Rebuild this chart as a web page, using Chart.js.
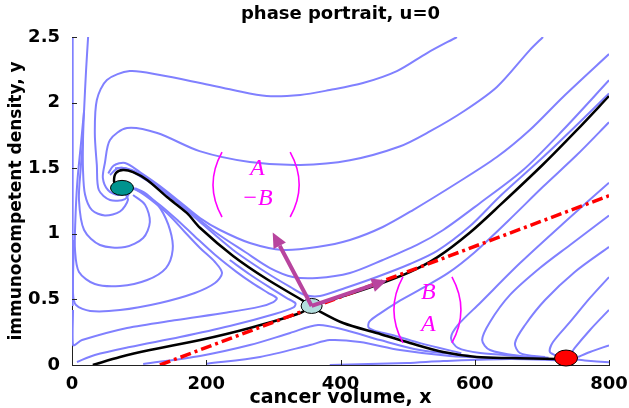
<!DOCTYPE html>
<html><head><meta charset="utf-8">
<script src="https://cdn.jsdelivr.net/npm/chart.js@4/dist/chart.umd.min.js"></script>
<style>html,body{margin:0;padding:0;background:#fff;overflow:hidden}canvas{display:block}</style>
</head><body>
<canvas id="c" width="629" height="408" style="width:629px;height:408px"></canvas>
<script>
// ---------- tick values ----------
const xTicks = [0, 200, 400, 600, 800];
const yTicks = [0, 0.5, 1, 1.5, 2, 2.5];

// ---------- equilibria ----------
const spiralPoint = [74.5, 1.35];
const saddlePoint = [357, 0.45];
const nodePoint = [736, 0.053];

// ---------- eigenvector arrow tips (from saddle) ----------
const arrowTipUp = [299, 1.01];
const arrowTipRight = [469, 0.645];

// ---------- red dash-dot line ----------
const redLine = [[131, 0], [800, 1.29]];

// ---------- separatrices (black) ----------
const sepStableLower = [[31,0],[71.5,0.061],[116,0.114],[191,0.19],[265,0.282],[340,0.396],[357,0.45]];
const sepStableUpper = [[357,0.45],[407,0.53],[454,0.61],[504,0.71],[544,0.82],[593,1.01],[638,1.22],[702,1.53],[752,1.79],[800,2.05]];
const sepUnstableSpiral = [[357,0.45],[340,0.503],[290,0.655],[240,0.831],[191,1.044],[171,1.159],[141.5,1.28],[112,1.41],[91,1.47],[76,1.486],[65.5,1.463],[62.6,1.40],[66,1.36]];
const sepUnstableNode = [[357,0.45],[365,0.42],[404,0.32],[454,0.244],[503.5,0.168],[553,0.099],[603,0.061],[652.5,0.053],[722.5,0.046],[736,0.05]];

// ---------- trajectories (blue) ----------
const axisFlow = [[1,2.5],[1,1.6],[1,0.9],[1,0.45]];
const topDescent = [[24,2.5],[21,2.25],[18,1.94],[16.4,1.72],[16.4,1.49],[19.4,1.30],[29.8,1.18],[49,1.14],[71.5,1.17],[83.4,1.26],[77.5,1.32]];
const upperLoop1 = [[88,1.334],[79,1.265],[56.6,1.258],[40,1.334],[37,1.524],[34,1.768],[37,2.02],[52,2.172],[86,2.24],[131,2.21],[191,2.149],[240,2.096],[290,2.05],[340,2.058],[384,2.096],[433.5,2.149],[484,2.24],[529,2.378],[573.5,2.5]];
const upperLoop2 = [[82,1.334],[68.5,1.296],[53.6,1.334],[46,1.425],[49,1.54],[56.6,1.715],[82,1.806],[127,1.768],[190,1.63],[265,1.547],[340,1.524],[414,1.56],[488,1.665],[533,1.78],[582.5,1.93],[633,2.119],[682,2.40],[701.7,2.5]];
const spiralInflow1 = [[800,2.07],[752,1.829],[702,1.585],[638,1.288],[593,1.059],[544,0.87],[503.5,0.77],[454,0.671],[407,0.587],[369.5,0.526],[347,0.534],[325,0.595],[290.5,0.701],[240,0.877],[190.7,1.09],[161,1.22],[131,1.341],[101,1.44],[79,1.50],[64,1.50]];
const spiralInflow2 = [[800,2.17],[731.5,1.791],[672,1.486],[608,1.235],[553,1.029],[514,0.915],[463,0.80],[414,0.701],[365,0.663],[329,0.671],[295,0.739],[258,0.861],[213,1.014],[176,1.166],[146,1.296],[116,1.41],[89,1.486],[68.5,1.50],[56.6,1.448]];
const spiralInflow3 = [[800,2.37],[731.5,2.043],[682,1.791],[633,1.585],[573.6,1.387],[508,1.181],[463,1.052],[414,0.953],[365,0.899],[314,0.877],[265,0.93],[220.5,1.029],[190.7,1.12],[161,1.242],[131,1.364],[101,1.471],[79,1.54],[62,1.52],[54,1.46]];
const nodeInflow1 = [[800,1.85],[752,1.60],[702,1.36],[650,1.10],[600,0.86],[560,0.70],[520,0.58],[485,0.48],[458,0.39],[443,0.33],[442,0.285],[455,0.255],[480,0.225],[520,0.165],[580,0.09]];
const nodeInflow2 = [[800,1.39],[737.5,1.105],[667.5,0.777],[608,0.473],[575,0.305],[564.6,0.206],[575,0.13],[608,0.091],[667.5,0.069]];
const nodeInflow3 = [[800,1.14],[742,0.915],[697,0.739],[652.5,0.534],[622.7,0.328],[611,0.19],[622.7,0.114],[667.5,0.069],[710,0.055]];
const nodeInflow4 = [[800,0.90],[749,0.709],[704.7,0.495],[675,0.305],[660,0.168],[667.5,0.091],[704.7,0.061]];
const nodeInflow5 = [[800,0.67],[771.7,0.511],[742,0.328],[716.6,0.175],[712,0.099],[727,0.061]];
const nodeInflow6 = [[800,0.42],[771.7,0.267],[749,0.13],[742,0.076]];
const nodeInflow7 = [[800,0.15],[771.7,0.099],[754,0.061]];
const nodeInflow8 = [[800,0.02],[764,0.035],[745,0.045]];
const lowerLoopA = [[18,1.94],[14,1.72],[8,1.40],[5,1.10],[4.5,0.877],[10.4,0.709],[34,0.617],[71.5,0.602],[112,0.648],[140,0.739],[150,0.877],[146,1.03],[132,1.19],[112,1.30],[94,1.349]];
const lowerLoopB = [[16.4,1.72],[13,1.50],[10.4,1.258],[18,1.029],[41.7,0.915],[79,0.899],[106,0.968],[116,1.09],[109,1.22],[91,1.296]];
const lowerLoopC = [[3,0.953],[1.5,0.549],[6,0.457],[27,0.412],[71.5,0.419],[131,0.473],[183,0.549],[213,0.625],[223.5,0.701],[213,0.785],[190.7,0.892],[168,1.014],[146,1.136],[123.6,1.235],[101,1.319],[83,1.364]];
const lowerLoopD = [[1.5,0.419],[1.5,0.152],[15,0.19],[82,0.282],[156,0.343],[231,0.40],[280,0.445],[300,0.48],[305,0.51],[292,0.55],[270,0.62],[245,0.71],[213,0.84],[183,0.98],[158,1.10],[131,1.22],[106,1.31],[83,1.37]];
const lowerLoopE = [[7.4,0.023],[34,0.076],[86,0.137],[161,0.213],[235,0.297],[302,0.389],[330,0.44],[333,0.47],[320,0.51],[295,0.59],[265,0.69],[235,0.80]];
const bottomFlow1 = [[106,0.008],[190.7,0.069],[265,0.152],[325,0.244],[366.5,0.305],[407,0.267],[459,0.19],[518,0.114],[593,0.069]];
const bottomFlow2 = [[201,0.01],[280,0.061],[354.6,0.152],[384,0.19],[429,0.175],[488.7,0.114],[563,0.069],[637.6,0.053]];
const bottomFlow3 = [[384,0],[499,0.015],[553,0.03],[652.5,0.046],[727,0.035]];

const blueCurves = [axisFlow, topDescent, upperLoop1, upperLoop2, spiralInflow1, spiralInflow2, spiralInflow3,
  nodeInflow1, nodeInflow2, nodeInflow3, nodeInflow4, nodeInflow5, nodeInflow6, nodeInflow7, nodeInflow8,
  lowerLoopA, lowerLoopB, lowerLoopC, lowerLoopD, lowerLoopE, bottomFlow1, bottomFlow2, bottomFlow3];
const blackCurves = [sepStableLower, sepStableUpper, sepUnstableSpiral, sepUnstableNode];

const toXY = arr => arr.map(p => ({x: p[0], y: p[1]}));
const datasets = [];
datasets.push({data: toXY(redLine), showLine: true, borderColor: '#ff0000', borderWidth: 3.5, borderDash: [11,4,3,4], pointRadius: 0, order: 0, tension: 0});
blackCurves.forEach(c => datasets.push({data: toXY(c), showLine: true, borderColor: '#000000', borderWidth: 2.5, pointRadius: 0, tension: 0.3, order: 1}));
blueCurves.forEach(c => datasets.push({data: toXY(c), showLine: true, borderColor: '#8080ff', borderWidth: 2, pointRadius: 0, tension: 0.3, order: 2}));

const overlay = {
  id: 'overlay',
  afterDatasetsDraw(chart, args, opts) {
    const {ctx, scales: {x, y}} = chart;
    const px = v => x.getPixelForValue(v), py = v => y.getPixelForValue(v);
    ctx.save();
    // inward ticks
    ctx.strokeStyle = '#222'; ctx.lineWidth = 1;
    xTicks.forEach(t => { const X = Math.round(px(t)) + 0.5; ctx.beginPath(); ctx.moveTo(X, y.bottom); ctx.lineTo(X, y.bottom - 5); ctx.stroke(); });
    yTicks.forEach(t => { const Y = Math.round(py(t)) + 0.5; ctx.beginPath(); ctx.moveTo(x.left, Y); ctx.lineTo(x.left + 5, Y); ctx.stroke(); });
    // equilibria
    const ell = (p, rx, ry, fill) => {
      ctx.beginPath(); ctx.ellipse(px(p[0]), py(p[1]), rx, ry, 0, 0, Math.PI * 2);
      ctx.fillStyle = fill; ctx.fill(); ctx.lineWidth = 1; ctx.strokeStyle = '#000'; ctx.stroke();
    };
    ell(spiralPoint, 11.5, 7.5, '#00948f');
    ell(saddlePoint, 10.5, 7.5, '#b3dede');
    ell(nodePoint, 11.5, 8, '#ff0000');
    // arrows
    const arrow = (from, to) => {
      const x0 = px(from[0]), y0 = py(from[1]), x1 = px(to[0]), y1 = py(to[1]);
      const a = Math.atan2(y1 - y0, x1 - x0), L = 15, W = 7;
      const bx = x1 - L * Math.cos(a), by = y1 - L * Math.sin(a);
      ctx.strokeStyle = opts.arrowColor; ctx.fillStyle = opts.arrowColor; ctx.lineWidth = 4; ctx.lineCap = 'butt';
      ctx.beginPath(); ctx.moveTo(x0, y0); ctx.lineTo(bx, by); ctx.stroke();
      ctx.beginPath(); ctx.moveTo(x1, y1);
      ctx.lineTo(bx + W * Math.sin(a), by - W * Math.cos(a));
      ctx.lineTo(bx - W * Math.sin(a), by + W * Math.cos(a));
      ctx.closePath(); ctx.fill();
    };
    arrow(saddlePoint, arrowTipUp);
    arrow(saddlePoint, arrowTipRight);
    // column vectors
    opts.matrices.forEach(m => {
      ctx.strokeStyle = opts.textColor; ctx.lineWidth = 1.6;
      const top = py(m.yTop), bot = py(m.yBot), mid = (top + bot) / 2;
      const lx = px(m.xLeft), rx = px(m.xRight);
      ctx.beginPath(); ctx.moveTo(lx, top); ctx.quadraticCurveTo(lx - 2 * m.bulge, mid, lx, bot); ctx.stroke();
      ctx.beginPath(); ctx.moveTo(rx, top); ctx.quadraticCurveTo(rx + 2 * m.bulge, mid, rx, bot); ctx.stroke();
      ctx.fillStyle = opts.textColor; ctx.font = 'italic ' + m.size + 'px "Liberation Serif"';
      ctx.textAlign = 'center'; ctx.textBaseline = 'middle';
      m.rows.forEach((r, i) => ctx.fillText(r, px(m.xText), py(m.yRows[i])));
    });
    ctx.restore();
  }
};

new Chart(document.getElementById('c'), {
  type: 'scatter',
  data: {datasets},
  plugins: [overlay],
  options: {
    responsive: false, animation: false, devicePixelRatio: 1,
    layout: {padding: {left: 0, right: 20, top: 0, bottom: 0}},
    plugins: {
      legend: {display: false}, tooltip: {enabled: false},
      title: {display: true, text: 'phase portrait, u=0', color: '#000', fullSize: false,
        font: {family: 'DejaVu Sans', size: 18, weight: 'bold'}, padding: {top: 4, bottom: 11.4}},
      overlay: {
        arrowColor: '#b8449e', textColor: '#ff00ff',
        matrices: [
          {rows: ['A', '\u2212B'], xText: 276, yRows: [1.50, 1.27], xLeft: 223.5, xRight: 325, yTop: 1.623, yBot: 1.128, bulge: 9, size: 24},
          {rows: ['B', 'A'], xText: 531, yRows: [0.55, 0.305], xLeft: 493, xRight: 566, yTop: 0.671, yBot: 0.168, bulge: 9, size: 24}
        ]
      }
    },
    scales: {
      x: {type: 'linear', min: 0, max: 800,
        afterFit: s => { s.height = 43; },
        afterBuildTicks: s => { s.ticks = xTicks.map(v => ({value: v})); },
        ticks: {color: '#000', font: {family: 'DejaVu Sans', size: 18, weight: 'bold'}, padding: 1, maxRotation: 0, autoSkip: false},
        grid: {display: false},
        border: {display: true, color: '#222', width: 1},
        title: {display: true, text: 'cancer volume, x', color: '#000', font: {family: 'DejaVu Sans', size: 19, weight: 'bold', lineHeight: 1}, padding: {top: 0, bottom: 0}}
      },
      y: {type: 'linear', min: 0, max: 2.5,
        afterFit: s => { s.width = 72; },
        afterBuildTicks: s => { s.ticks = yTicks.map(v => ({value: v})); },
        ticks: {color: '#000', font: {family: 'DejaVu Sans', size: 18, weight: 'bold'}, padding: 4, callback: v => String(v)},
        grid: {display: false},
        border: {display: true, color: '#222', width: 1},
        title: {display: true, text: 'immunocompetent density, y', color: '#000', font: {family: 'DejaVu Sans', size: 17, weight: 'bold'}, padding: {top: 6, bottom: 0}}
      }
    }
  }
});
</script></body></html>
